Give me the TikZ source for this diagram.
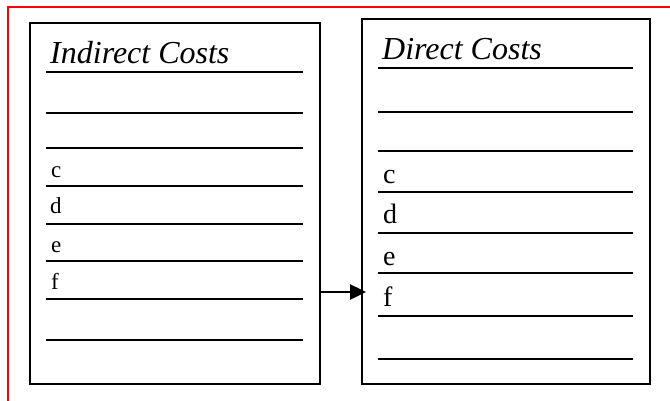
\documentclass[tikz,border=0pt]{standalone}
\usepackage{fontspec}
\setmainfont{Liberation Serif}
\usetikzlibrary{arrows.meta}

\tikzset{
  ledger/.style={draw=black, line width=2pt, fill=white, inner sep=0pt},
  rule/.style={line width=2.2pt, black},
  heading/.style={anchor=base west, inner sep=0pt, font=\fontsize{32}{32}\selectfont\itshape},
  smallentry/.style={anchor=base west, inner sep=0pt, font=\fontsize{23}{23}\selectfont},
  bigentry/.style={anchor=base west, inner sep=0pt, font=\fontsize{28}{28}\selectfont},
  flow/.style={line width=2.5pt, -{Triangle[length=16pt,width=15pt]}, shorten >=-5pt}
}

\begin{document}
\begin{tikzpicture}[x=1pt, y=-1pt]
  \useasboundingbox (0,0) rectangle (670,400);
  \clip (0,0) rectangle (670,400);
  \fill[white] (0,0) rectangle (670,400);

  % red outer frame (runs off the right and bottom edges)
  \draw[red, line width=1.5pt] (8,7) rectangle (690,420);

  % the two ledgers
  \node[ledger, minimum width=290pt, minimum height=361pt] (ind) at (175,203.5) {};
  \node[ledger, minimum width=288pt, minimum height=365pt] (dir) at (506,201.5) {};

  % Indirect Costs ledger
  \node[heading] (indtitle) at (50,63) {Indirect Costs};
  \foreach \y in {72,113,148,186,224,261,299,340}
    \draw[rule] (46,\y) -- (303,\y);
  \node[smallentry] (ic) at (51,177) {c};
  \node[smallentry] (id) at (50,213) {d};
  \node[smallentry] (ie) at (51,252) {e};
  \node[smallentry] (if) at (51,289) {f};

  % Direct Costs ledger
  \node[heading] (dirtitle) at (382,59) {Direct Costs};
  \foreach \y in {68,112,151,192,233,273,316,359}
    \draw[rule] (378,\y) -- (633,\y);
  \node[bigentry] (dc) at (383,183) {c};
  \node[bigentry] (dd) at (383,223) {d};
  \node[bigentry] (de) at (383,265) {e};
  \node[bigentry] (df) at (383,306) {f};

  % transfer arrow
  \coordinate (fline) at (340,292);
  \draw[flow] (ind.east |- fline) -- (dir.west |- fline);
\end{tikzpicture}
\end{document}
